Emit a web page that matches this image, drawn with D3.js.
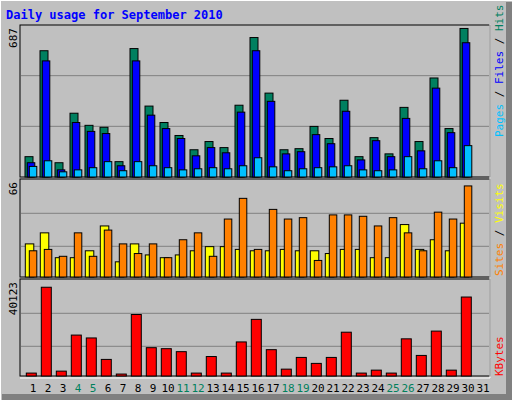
<!DOCTYPE html><html><head><meta charset="utf-8">
<script src="https://cdn.jsdelivr.net/npm/d3@7"></script>
<style>body{margin:0;background:#fff}svg{display:block}</style></head><body>
<svg id="c" width="512" height="400"></svg>
<script>
const days = d3.range(1,32).map(String);
const weekendDays = ["4","5","11","12","18","19","25","26"];
const hits  = [94,584,66,295,239,230,71,594,328,252,192,126,164,136,332,645,388,126,131,234,178,355,94,182,107,322,164,458,224,687,0];
const files = [66,537,33,252,211,201,52,537,286,224,178,98,136,112,300,584,350,107,117,196,154,304,79,168,94,271,121,411,205,621,0];
const pages = [49,75,24,33,43,71,29,71,52,43,33,38,43,38,52,89,47,29,38,43,47,52,33,29,33,94,38,75,43,145,0];
const visits = [24,32,14,14,19,37,11,24,16,14,16,19,22,22,20,19,19,20,19,19,17,20,20,14,14,38,20,27,19,39,0];
const sites  = [19,20,15,32,15,34,24,17,24,14,27,32,15,42,57,20,49,42,43,12,45,45,44,37,43,32,19,47,42,66,0];
const kbytes = [1320,40123,2200,18500,17200,7500,880,27800,12800,12350,11000,1320,8800,1320,15400,25600,11900,3100,8400,5700,8400,19800,1320,2650,1320,16800,9300,20300,2650,35700,0];
const maxLabels = ["687","66","40123"];

const svg = d3.select("#c");
const F = "'DejaVu Sans Mono', monospace";
svg.append("rect").attr("width",512).attr("height",400).attr("fill","#c0c0c0");
// 3D frame
svg.append("path").attr("d","M0,400V0H512").attr("stroke","#fff").attr("stroke-width",2).attr("fill","none");
svg.append("rect").attr("x",506).attr("y",2).attr("width",6).attr("height",398).attr("fill","#808080");
svg.append("rect").attr("x",2).attr("y",394).attr("width",510).attr("height",6).attr("fill","#808080");
svg.append("text").attr("x",6).attr("y",19).text("Daily usage for September 2010")
  .attr("font-family",F).attr("font-weight","bold").attr("font-size",12).attr("fill","#0000ff");

const x = d3.scaleBand().domain(days).range([23,488]).paddingInner(0).paddingOuter(0);
const panels = [
  {top:25,bot:177,max:703},
  {top:179,bot:277,max:66*99/92},
  {top:279,bot:376,max:40123*100/91.5}
];
panels.forEach((p,i)=>{
  svg.append("rect").attr("x",20).attr("y",p.top).attr("width",470).attr("height",p.bot-p.top)
    .attr("fill","#c0c0c0").attr("stroke","#000").attr("stroke-width",1);
  p.y = d3.scaleLinear().domain([0,p.max]).range([p.bot,p.top]);
  const gh=(p.bot-p.top);
  [1/3,2/3].forEach(f=>{
    if(i==0){svg.append("line").attr("x1",21).attr("x2",489).attr("y1",p.bot-gh*f).attr("y2",p.bot-gh*f).attr("stroke","#808080");}
  });
});
// grid lines specific
[[176.7-50,176.7-100],[246.3,213.3],[346.3,313.3]].forEach((g,i)=>{ if(i>0) g.forEach(v=>svg.append("line").attr("x1",21).attr("x2",489).attr("y1",v).attr("y2",v).attr("stroke","#808080"));});
// outline white lines on right/bottom of plot
svg.append("path").attr("d","M490,24V378H20").attr("stroke","#fff").attr("fill","none");

function bars(data,p,off,w,color){
  svg.append("g").selectAll("rect").data(data).join("rect")
    .attr("x",(d,i)=>x(days[i])+off).attr("width",w)
    .attr("y",d=>p.y(d)).attr("height",d=>Math.max(0,p.bot-p.y(d)))
    .attr("fill",color).attr("stroke","#000").attr("stroke-width",1)
    .attr("display",d=>d>0?null:"none");
}
bars(hits,panels[0],2,8,"#008060");
bars(files,panels[0],4.3,7.5,"#0000ff");
bars(pages,panels[0],6.3,7.5,"#00c0ff");
bars(visits,panels[1],2.3,8.5,"#ffff00");
bars(sites,panels[1],6.3,7.5,"#ff8000");
bars(kbytes,panels[2],3.3,10,"#ff0000");

// day labels
svg.append("g").selectAll("text").data(days).join("text")
  .attr("x",d=>x(d)+10).attr("y",392).attr("text-anchor","middle")
  .attr("font-family",F).attr("font-size",11)
  .attr("fill",d=>weekendDays.includes(d)?"#00805c":"#000").text(d=>d);
// max labels
panels.forEach((p,i)=>{
  svg.append("text").attr("transform",`translate(17,${p.top+3}) rotate(-90)`).attr("text-anchor","end")
    .attr("font-family",F).attr("font-size",11).text(maxLabels[i]);
});
function rlabel(parts,yEnd){
  const t=svg.append("text").attr("transform",`translate(503,${yEnd}) rotate(-90)`)
    .attr("font-family",F).attr("font-size",11);
  parts.forEach(([s,c])=>t.append("tspan").attr("fill",c).text(s));
}
rlabel([["Pages","#00c0ff"],[" / ","#000"],["Files","#0000ff"],[" / ","#000"],["Hits","#008060"]],137);
rlabel([["Sites","#ff8000"],[" / ","#000"],["Visits","#ffff00"]],276);
rlabel([["KBytes","#ff0000"]],376);
</script></body></html>
